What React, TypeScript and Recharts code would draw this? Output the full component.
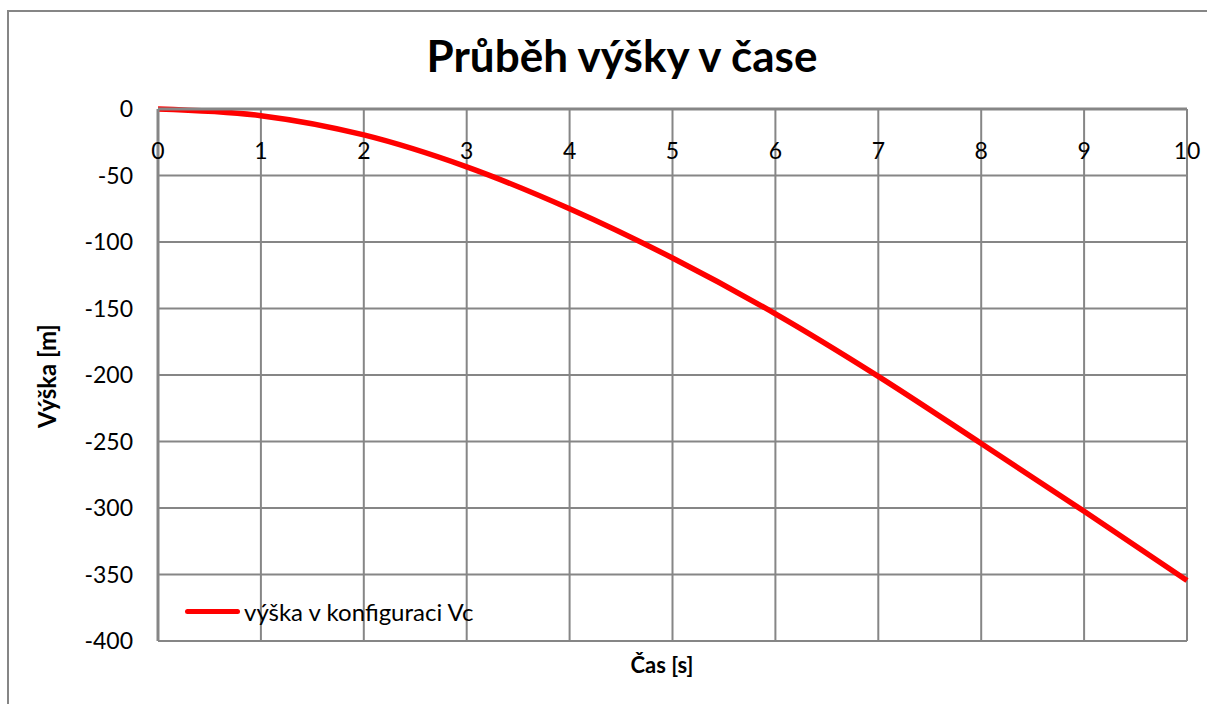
import { CartesianGrid, Line, LineChart, XAxis, YAxis } from "recharts";

// čas [s]
const casS = [0, 1, 2, 3, 4, 5, 6, 7, 8, 9, 10];
// výška [m]
const vyskaVc = [0, -5, -19.5, -43.5, -75, -112, -154, -201, -251.5, -302.5, -354.5];

const xTicks = [0, 1, 2, 3, 4, 5, 6, 7, 8, 9, 10];
const yTicks = [0, -50, -100, -150, -200, -250, -300, -350, -400];

const seriesName = "výška v konfiguraci Vc";
const title = "Průběh výšky v čase";
const xTitle = "Čas [s]";
const yTitle = "Výška [m]";

const data = casS.map((t, i) => ({ t, h: vyskaVc[i] }));

const FONT = "Lato, 'Open Sans', sans-serif";
const GRID = "#868686";

// Excel draws the labels under the horizontal axis, which sits at y = 0
const renderTopTick = (props: any) => {
  const { x, y, payload, index } = props;
  return (
    <text
      key={index}
      x={x}
      y={y + 50}
      textAnchor="middle"
      fontSize={23}
      fill="#000"
      fontFamily={FONT}
    >
      {payload.value}
    </text>
  );
};

export default function App() {
  return (
    <div
      style={{
        position: "fixed",
        left: 0,
        top: 0,
        width: 1207,
        height: 704,
        overflow: "hidden",
        background: "#fff",
        fontFamily: FONT,
      }}
    >
      <div
        style={{
          position: "absolute",
          left: 7,
          top: 10,
          width: 1240,
          height: 740,
          border: `2px solid ${GRID}`,
          boxSizing: "border-box",
        }}
      />
      <div
        style={{
          position: "absolute",
          left: 322,
          width: 600,
          top: 31,
          textAlign: "center",
          fontSize: 44,
          fontWeight: 700,
          lineHeight: "48px",
          color: "#000",
        }}
      >
        {title}
      </div>
      <div style={{ position: "absolute", left: 0, top: 0 }}>
        <LineChart
          width={1207}
          height={704}
          data={data}
          margin={{ top: 108, right: 20, left: 0, bottom: 63 }}
        >
          <CartesianGrid stroke={GRID} strokeWidth={2} />
          <XAxis
            dataKey="t"
            type="number"
            domain={[0, 10]}
            ticks={xTicks}
            orientation="top"
            height={1}
            axisLine={{ stroke: GRID, strokeWidth: 3 }}
            tickLine={false}
            tickSize={0}
            tickMargin={0}
            tick={renderTopTick}
            interval={0}
          />
          <YAxis
            type="number"
            domain={[-400, 0]}
            ticks={yTicks}
            width={158}
            axisLine={{ stroke: GRID, strokeWidth: 3 }}
            tickLine={false}
            tickSize={0}
            tickMargin={25}
            tick={{ fontSize: 23, fill: "#000", fontFamily: FONT }}
            interval={0}
          />
          <Line
            type="monotone"
            dataKey="h"
            name={seriesName}
            stroke="#ff0000"
            strokeWidth={5.5}
            dot={false}
            isAnimationActive={false}
          />
        </LineChart>
      </div>
      <div
        style={{
          position: "absolute",
          left: 47 - 70,
          top: 376 - 15,
          width: 140,
          height: 30,
          lineHeight: "30px",
          textAlign: "center",
          transform: "rotate(-90deg)",
          fontSize: 24,
          fontWeight: 700,
          color: "#000",
        }}
      >
        {yTitle}
      </div>
      <div
        style={{
          position: "absolute",
          left: 612,
          width: 100,
          top: 650,
          textAlign: "center",
          fontSize: 22,
          fontWeight: 700,
          lineHeight: "30px",
          color: "#000",
        }}
      >
        {xTitle}
      </div>
      <div
        style={{
          position: "absolute",
          left: 185,
          top: 596,
          display: "flex",
          alignItems: "center",
          height: 30,
          fontSize: 24,
          color: "#000",
        }}
      >
        <span
          style={{
            display: "inline-block",
            width: 55,
            height: 5,
            borderRadius: 3,
            background: "#ff0000",
            marginRight: 4,
          }}
        />
        <span>{seriesName}</span>
      </div>
    </div>
  );
}
